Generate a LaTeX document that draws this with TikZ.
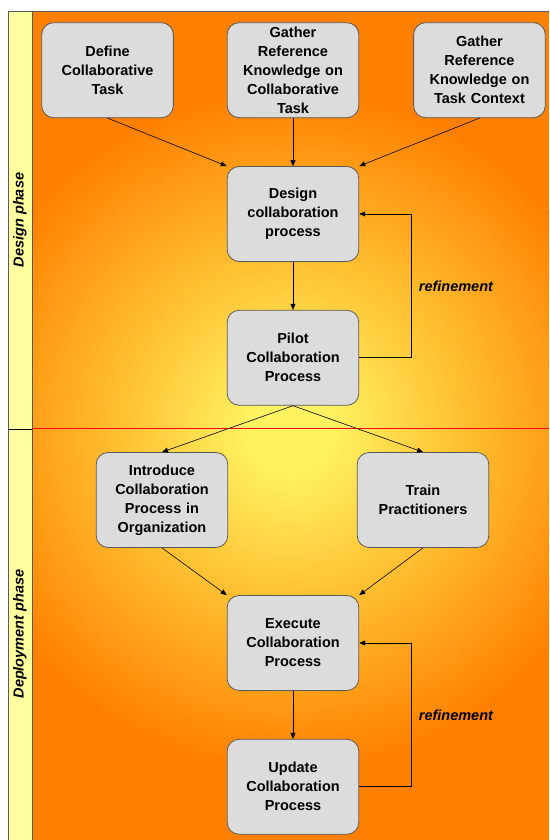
\documentclass[tikz,border=0pt]{standalone}
\usepackage{fontspec}
\setmainfont{Liberation Sans}
\usepackage{xcolor}
\definecolor{glowcore}{RGB}{255, 242, 96}
\definecolor{glowmid}{RGB}{255, 190, 48}
\definecolor{glowedge}{RGB}{255, 128, 0}
\definecolor{laneyellow}{RGB}{255, 255, 160}
\definecolor{boxgray}{RGB}{220, 220, 220}
\definecolor{boxline}{RGB}{90, 90, 90}
\usetikzlibrary{arrows.meta, positioning}
\pgfdeclareradialshading{phaseglow}{\pgfpoint{0bp}{0bp}}{color(0bp)=(glowcore); color(3bp)=(glowcore); color(13bp)=(glowmid); color(25bp)=(glowedge); color(50bp)=(glowedge)}

\begin{document}
\begin{tikzpicture}[
        x=1pt, y=1pt,
        node distance=48pt,
        process/.style={
            rectangle,
            draw=boxline,
            line width=0.8pt,
            fill=boxgray,
            minimum width=131pt,
            minimum height=95pt,
            text width=125pt,
            align=center,
            rounded corners=12pt,
            font=\fontsize{14.5}{19}\selectfont\bfseries
        },
        phase/.style={rotate=90, font=\fontsize{14.5}{18}\selectfont\bfseries\itshape},
        looplabel/.style={font=\fontsize{14.5}{18}\selectfont\bfseries\itshape},
        arrow/.style={-{Triangle[length=6pt, width=5pt]}, line width=0.6pt, color=black}
    ]
        \useasboundingbox (0,0) rectangle (549,840);

        % background: lane strip and glowing panel
        \begin{scope}
            \clip (32,0) rectangle (549,829);
            \fill[glowedge] (32,0) rectangle (549,829);
            \shade[shading=phaseglow] (290,410) circle (340);
        \end{scope}
        \draw[boxline, line width=0.6pt] (32,0) -- (32,829) -- (549,829);
        \draw[boxline, fill=laneyellow, line width=0.6pt] (8,0) rectangle (32,829);
        \draw[black, line width=0.6pt] (8,411) -- (32,411);
        \draw[red, line width=1pt] (32,411) -- (549,411);

        \node[phase] (designlane) at (20,620) {Design phase};
        \node[phase] (deploylane) at (20,206) {Deployment phase};

        % design phase
        \node[process] (design) at (293,626) {Design\\collaboration\\process};
        \node[process, above=of design] (refcollab) {Gather\\Reference\\Knowledge on\\Collaborative\\Task};
        \node[process, left=53pt of refcollab] (define) {Define\\Collaborative\\Task};
        \node[process, right=54pt of refcollab] (refcontext) {Gather\\Reference\\Knowledge on\\Task Context};
        \node[process, below=of design] (pilot) {Pilot\\Collaboration\\Process};

        % deployment phase
        \node[process] (introduce) at (162,340) {Introduce\\Collaboration\\Process in\\Organization};
        \node[process] (train) at (423,340) {Train\\Practitioners};
        \node[process] (execute) at (293,197) {Execute\\Collaboration\\Process};
        \node[process, below=of execute] (update) {Update\\Collaboration\\Process};

        \draw[arrow] (define.south) -- (design.north west);
        \draw[arrow] (refcollab) -- (design);
        \draw[arrow] (refcontext.south) -- (design.north east);
        \draw[arrow] (design) -- (pilot);
        \draw[arrow] (pilot.east) -- ++(52,0) |- node[looplabel, pos=0.25, right=4pt] (refinea) {refinement} (design.east);

        \draw[arrow] (pilot.south) -- (introduce.north);
        \draw[arrow] (pilot.south) -- (train.north);
        \draw[arrow] (introduce.south) -- (execute.north west);
        \draw[arrow] (train.south) -- (execute.north east);
        \draw[arrow] (execute) -- (update);
        \draw[arrow] (update.east) -- ++(52,0) |- node[looplabel, pos=0.25, right=4pt] (refineb) {refinement} (execute.east);

    \end{tikzpicture}
\end{document}
